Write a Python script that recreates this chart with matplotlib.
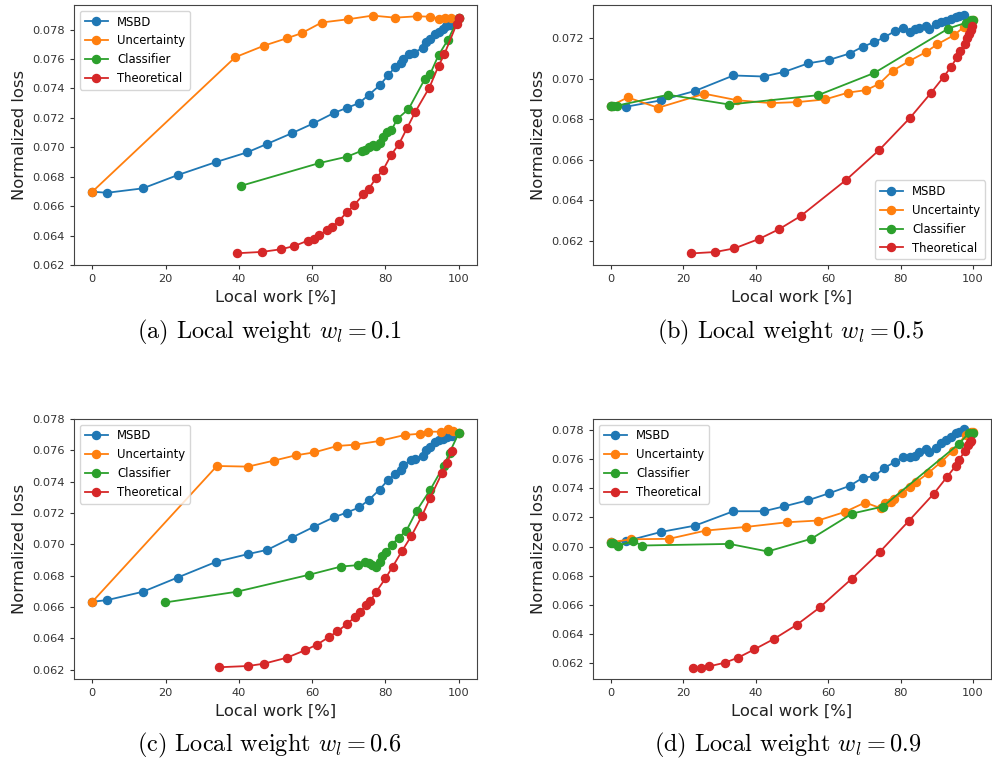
import matplotlib
matplotlib.use("Agg")
import matplotlib.pyplot as plt
from matplotlib.ticker import MultipleLocator, FormatStrFormatter

plt.rcParams['mathtext.fontset'] = 'cm'

series_names = ["MSBD", "Uncertainty", "Classifier", "Theoretical"]
series_colors = ["#1f77b4", "#ff7f0e", "#2ca02c", "#d62728"]
captions = ["(a) Local weight $w_l = 0.1$", "(b) Local weight $w_l = 0.5$",
            "(c) Local weight $w_l = 0.6$", "(d) Local weight $w_l = 0.9$"]
x_label = "Local work [%]"
y_label = "Normalized loss"

# ---------- (a) w_l = 0.1 ----------
a_msbd_x = [0, 4.1, 13.8, 23.3, 33.8, 42.2, 47.8, 54.5, 60.3, 66.0, 69.5, 72.8, 75.5, 78.4, 80.7,
            82.7, 84.2, 84.9, 86.5, 87.9, 90.2, 91.1, 92.2, 93.4, 94.5, 95.6, 96.5, 97.6, 100]
a_msbd_y = [0.06698, 0.06691, 0.06721, 0.06811, 0.06900, 0.06965, 0.07024, 0.07096, 0.07162, 0.07234,
            0.07268, 0.07300, 0.07357, 0.07420, 0.07488, 0.07547, 0.07574, 0.07601, 0.07637, 0.07644,
            0.07676, 0.07714, 0.07734, 0.07773, 0.07784, 0.07807, 0.07823, 0.07829, 0.07881]
a_unc_x = [0, 39.0, 46.9, 53.1, 57.1, 62.6, 69.8, 76.5, 82.6, 88.5, 92.2, 94.5, 96.4, 98.0, 100]
a_unc_y = [0.06698, 0.07612, 0.07691, 0.07741, 0.07775, 0.07848, 0.07870, 0.07895, 0.07881, 0.07890,
           0.07888, 0.07875, 0.07879, 0.07877, 0.07881]
a_cls_x = [40.7, 62.0, 69.5, 73.5, 74.5, 75.6, 76.5, 77.5, 78.4, 79.3, 80.4, 81.6, 83.3, 86.3, 90.7,
           92.2, 94.5, 97.1, 100]
a_cls_y = [0.06739, 0.06893, 0.06936, 0.06976, 0.06979, 0.07004, 0.07013, 0.07008, 0.07029, 0.07072,
           0.07101, 0.07115, 0.07194, 0.07259, 0.07461, 0.07497, 0.07626, 0.07732, 0.07881]
a_the_x = [39.6, 46.3, 51.5, 55.1, 58.9, 60.4, 62.0, 64.0, 65.5, 67.3, 69.5, 71.5, 74.0, 75.5, 77.5,
           79.3, 81.6, 83.7, 85.9, 88.2, 92.0, 94.5, 96.1, 99.5, 100]
a_the_y = [0.06280, 0.06289, 0.06307, 0.06329, 0.06366, 0.06379, 0.06402, 0.06438, 0.06461, 0.06501,
           0.06558, 0.06608, 0.06680, 0.06719, 0.06793, 0.06843, 0.06949, 0.07022, 0.07130, 0.07243,
           0.07406, 0.07553, 0.07633, 0.07841, 0.07881]

# ---------- (b) w_l = 0.5 ----------
b_msbd_x = [0, 4.1, 13.9, 23.2, 33.8, 42.2, 47.9, 54.5, 60.3, 65.9, 69.6, 72.8, 75.5, 78.4, 80.8,
            82.6, 83.9, 85.1, 86.9, 88.0, 89.8, 91.2, 92.5, 93.9, 95.3, 96.2, 97.5]
b_msbd_y = [0.06866, 0.06861, 0.06893, 0.06939, 0.07015, 0.07010, 0.07033, 0.07075, 0.07092, 0.07123,
            0.07157, 0.07180, 0.07203, 0.07233, 0.07251, 0.07231, 0.07243, 0.07251, 0.07257, 0.07244,
            0.07270, 0.07280, 0.07284, 0.07295, 0.07303, 0.07310, 0.07311]
b_unc_x = [0, 4.6, 13.0, 25.8, 34.9, 44.2, 51.5, 59.1, 65.6, 70.5, 74.1, 77.8, 82.3, 87.1, 90.2,
           94.9, 97.5, 98.9, 100]
b_unc_y = [0.06866, 0.06907, 0.06856, 0.06925, 0.06893, 0.06879, 0.06884, 0.06897, 0.06931, 0.06943,
           0.06974, 0.07038, 0.07085, 0.07131, 0.07169, 0.07215, 0.07254, 0.07270, 0.07287]
b_cls_x = [0, 0.6, 1.5, 15.8, 32.7, 57.2, 72.8, 93.2, 98.0, 99.4, 100]
b_cls_y = [0.06866, 0.06866, 0.06866, 0.06920, 0.06872, 0.06918, 0.07028, 0.07246, 0.07274, 0.07287,
           0.07290]
b_the_x = [22.2, 28.8, 34.1, 41.0, 46.5, 52.4, 64.9, 74.1, 82.7, 88.5, 91.9, 93.9, 95.7, 96.4, 97.8,
           98.4, 98.9, 99.4, 99.8]
b_the_y = [0.06139, 0.06146, 0.06164, 0.06211, 0.06259, 0.06323, 0.06500, 0.06648, 0.06808, 0.06931,
           0.07008, 0.07056, 0.07107, 0.07136, 0.07172, 0.07200, 0.07221, 0.07241, 0.07257]

# ---------- (c) w_l = 0.6 ----------
c_msbd_x = [0, 4.1, 13.8, 23.3, 33.8, 42.4, 47.8, 54.5, 60.4, 66.0, 69.5, 72.8, 75.5, 78.4, 80.7,
            82.7, 84.2, 84.9, 87.1, 88.1, 90.2, 91.1, 92.2, 93.4, 94.5, 95.6, 96.9, 98.2, 100]
c_msbd_y = [0.06633, 0.06644, 0.06697, 0.06788, 0.06888, 0.06937, 0.06965, 0.07043, 0.07111, 0.07173,
            0.07203, 0.07235, 0.07284, 0.07349, 0.07411, 0.07451, 0.07475, 0.07505, 0.07539, 0.07547,
            0.07566, 0.07602, 0.07619, 0.07651, 0.07666, 0.07675, 0.07687, 0.07694, 0.07709]
c_unc_x = [0, 34.0, 42.5, 49.5, 55.5, 60.6, 66.9, 71.8, 78.4, 85.3, 89.5, 91.5, 95.2, 97.1, 98.4, 100]
c_unc_y = [0.06633, 0.07500, 0.07496, 0.07534, 0.07568, 0.07587, 0.07628, 0.07636, 0.07660, 0.07698,
           0.07706, 0.07719, 0.07719, 0.07738, 0.07726, 0.07709]
c_cls_x = [19.9, 39.4, 59.1, 67.9, 72.5, 74.5, 75.5, 76.4, 77.3, 78.4, 79.1, 80.2, 81.7, 83.6, 85.7,
           88.5, 92.2, 95.9, 97.5, 100]
c_cls_y = [0.06629, 0.06697, 0.06805, 0.06858, 0.06867, 0.06886, 0.06880, 0.06865, 0.06858, 0.06884,
           0.06926, 0.06948, 0.06995, 0.07043, 0.07086, 0.07213, 0.07347, 0.07500, 0.07585, 0.07709]
c_the_x = [34.6, 42.5, 46.9, 53.1, 58.0, 61.3, 64.6, 66.9, 69.5, 71.8, 73.2, 74.7, 75.8, 77.5, 80.0,
           82.0, 84.6, 87.0, 90.0, 92.2, 95.5, 96.8, 98.1]
c_the_y = [0.06215, 0.06223, 0.06238, 0.06276, 0.06323, 0.06359, 0.06408, 0.06444, 0.06491, 0.06538,
           0.06570, 0.06610, 0.06635, 0.06697, 0.06782, 0.06858, 0.06960, 0.07050, 0.07182, 0.07296,
           0.07458, 0.07517, 0.07596]

# ---------- (d) w_l = 0.9 ----------
d_msbd_x = [0, 4.1, 13.9, 23.2, 33.8, 42.2, 47.9, 54.5, 60.3, 65.9, 69.6, 72.8, 75.5, 78.4, 80.8,
            82.6, 83.9, 85.1, 86.9, 88.0, 89.8, 91.2, 92.5, 93.9, 95.3, 96.2, 97.5]
d_msbd_y = [0.07030, 0.07037, 0.07101, 0.07144, 0.07243, 0.07243, 0.07277, 0.07319, 0.07367, 0.07417,
            0.07474, 0.07484, 0.07541, 0.07582, 0.07617, 0.07617, 0.07626, 0.07649, 0.07672, 0.07649,
            0.07676, 0.07711, 0.07734, 0.07756, 0.07779, 0.07791, 0.07809]
d_unc_x = [0, 5.5, 16.0, 26.2, 37.3, 48.6, 57.2, 64.6, 70.2, 74.5, 75.7, 77.3, 78.1, 80.5, 82.5,
           84.4, 87.7, 91.2, 94.5, 98.0, 99.4, 100]
d_unc_y = [0.07030, 0.07050, 0.07053, 0.07110, 0.07135, 0.07167, 0.07179, 0.07238, 0.07303, 0.07264,
           0.07298, 0.07305, 0.07326, 0.07367, 0.07408, 0.07445, 0.07507, 0.07582, 0.07660, 0.07768,
           0.07786, 0.07786]
d_cls_x = [0, 0.5, 2.0, 6.1, 8.5, 32.7, 43.3, 55.3, 66.6, 75.1, 96.2, 98.9, 100]
d_cls_y = [0.07025, 0.07021, 0.07007, 0.07037, 0.07007, 0.07018, 0.06966, 0.07053, 0.07227, 0.07275,
           0.07708, 0.07782, 0.07782]
d_the_x = [22.5, 24.9, 27.1, 31.4, 35.1, 39.6, 45.1, 51.3, 57.7, 66.5, 74.2, 82.3, 89.2, 92.9, 95.3,
           96.2, 97.8, 98.7, 99.2, 99.6]
d_the_y = [0.06166, 0.06166, 0.06175, 0.06200, 0.06235, 0.06292, 0.06365, 0.06461, 0.06581, 0.06778,
           0.06961, 0.07177, 0.07364, 0.07481, 0.07557, 0.07596, 0.07660, 0.07699, 0.07722, 0.07729]

panels = [
    [(a_msbd_x, a_msbd_y), (a_unc_x, a_unc_y), (a_cls_x, a_cls_y), (a_the_x, a_the_y)],
    [(b_msbd_x, b_msbd_y), (b_unc_x, b_unc_y), (b_cls_x, b_cls_y), (b_the_x, b_the_y)],
    [(c_msbd_x, c_msbd_y), (c_unc_x, c_unc_y), (c_cls_x, c_cls_y), (c_the_x, c_the_y)],
    [(d_msbd_x, d_msbd_y), (d_unc_x, d_unc_y), (d_cls_x, d_cls_y), (d_the_x, d_the_y)],
]
ylims = [(0.0620, 0.07967), (0.06082, 0.07362), (0.06140, 0.07800), (0.06088, 0.07878)]
legend_locs = ["upper left", "lower right", "upper left", "upper left"]

W, H = 992, 765
fig = plt.figure(figsize=(W / 100, H / 100), dpi=100)
# axes boxes in pixels: (left, top, right, bottom)
boxes = [(74, 5, 477, 265), (593, 5, 991, 265), (74, 419, 477, 679), (593, 419, 991, 679)]
caption_pos = [(269, 332), (790, 332), (269, 745), (788, 745)]

for i, (box, data) in enumerate(zip(boxes, panels)):
    l, t, r, b = box
    ax = fig.add_axes([l / W, 1 - b / H, (r - l) / W, (b - t) / H])
    for (xs, ys), name, col in zip(data, series_names, series_colors):
        ax.plot(xs, ys, '-o', color=col, label=name, markersize=5.8, linewidth=1.3)
    ax.set_xlim(-5, 105)
    ax.set_ylim(*ylims[i])
    ax.xaxis.set_major_locator(MultipleLocator(20))
    ax.yaxis.set_major_locator(MultipleLocator(0.002))
    ax.yaxis.set_major_formatter(FormatStrFormatter('%.3f'))
    ax.tick_params(labelsize=8.2, colors='#333333', length=3)
    for sp in ax.spines.values():
        sp.set_color('#444444')
        sp.set_linewidth(0.8)
    ax.set_xlabel(x_label, fontsize=11.8, color='#222222')
    ax.set_ylabel(y_label, fontsize=11.8, color='#222222')
    ax.legend(loc=legend_locs[i], fontsize=8.4)
    cx, cy = caption_pos[i]
    fig.text(cx / W, 1 - cy / H, captions[i], ha='center', va='center',
             fontsize=17.5, family='cmr10')

fig.savefig("out.png", dpi=100)
